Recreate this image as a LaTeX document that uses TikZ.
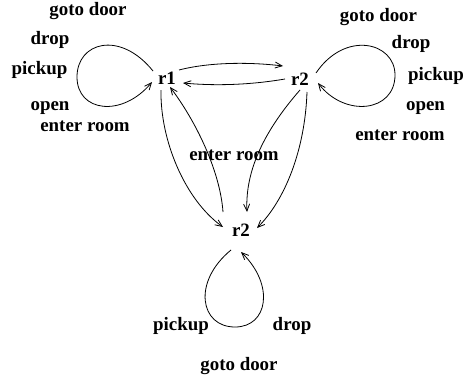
\documentclass[tikz,border=0pt]{standalone}
\usepackage{fontspec}
\setmainfont{Liberation Serif}
\usetikzlibrary{arrows.meta,calc}
\begin{document}
\begin{tikzpicture}[x=1pt,y=-1pt,
  lbl/.style={font=\fontsize{18.9}{22}\selectfont\bfseries, anchor=base, inner sep=0pt},
  conn/.style={line width=0.8pt, -{Straight Barb[length=7pt,width=6pt]}}]
\useasboundingbox (0,0) rectangle (465,380);
% state nodes
\node[lbl] (r1) at (167,84) {r1};
\node[lbl] (r2) at (300,85) {r2};
\node[lbl] (r3) at (241,236) {r2};
% labels left
\node[lbl] (l1) at (88,16) {goto door};
\node[lbl] (l2) at (50,44) {drop};
\node[lbl] (l3) at (39.5,74) {pickup};
\node[lbl] (l4) at (50,110) {open};
\node[lbl] (l5) at (85,131) {enter room};
% labels right
\node[lbl] (m1) at (378.5,21) {goto door};
\node[lbl] (m2) at (411,48) {drop};
\node[lbl] (m3) at (436,80) {pickup};
\node[lbl] (m4) at (425.5,110) {open};
\node[lbl] (m5) at (400,140) {enter room};
% middle
\node[lbl] (c1) at (234,160) {enter room};
% bottom labels
\node[lbl] (b1) at (181,330) {pickup};
\node[lbl] (b2) at (292,330) {drop};
\node[lbl] (b3) at (239,370) {goto door};
% self loops
\draw[conn] ($(r1.base)+(-14,-13)$) .. controls (120,30) and (77,42) .. (77,77)
  .. controls (77,112) and (122,118) .. ($(r1.base)+(-15,-2)$);
\draw[conn] ($(r2.base)+(16,-12)$) .. controls (345,30) and (395,42) .. (395,75)
  .. controls (395,112) and (345,118) .. ($(r2.base)+(18,-2)$);
\draw[conn] ($(r3.base)+(-10,14)$) .. controls (192,282) and (200,327) .. (235,327)
  .. controls (268,327) and (275,285) .. ($(r3.base)+(0,16)$);
% between r1 and r2
\draw[conn] ($(r1.base)+(12,-14)$) .. controls (210,62) and (250,62) .. ($(r2.base)+(-17,-19)$);
\draw[conn] ($(r2.base)+(-15,-6)$) .. controls (250,85) and (215,86) .. ($(r1.base)+(16,-1)$);
% r1 and bottom r2
\draw[conn] ($(r1.base)+(-6,6)$) .. controls (160,140) and (185,200) .. ($(r3.base)+(-18,-9)$);
\draw[conn] ($(r3.base)+(-18,-24)$) .. controls (220,170) and (195,120) .. ($(r1.base)+(3,3)$);
% r2 and bottom r2
\draw[conn] ($(r2.base)+(0,5)$) .. controls (265,130) and (245,170) .. ($(r3.base)+(6,-24)$);
\draw[conn] ($(r2.base)+(7,7)$) .. controls (305,150) and (285,200) .. ($(r3.base)+(16,-8)$);
\end{tikzpicture}
\end{document}
